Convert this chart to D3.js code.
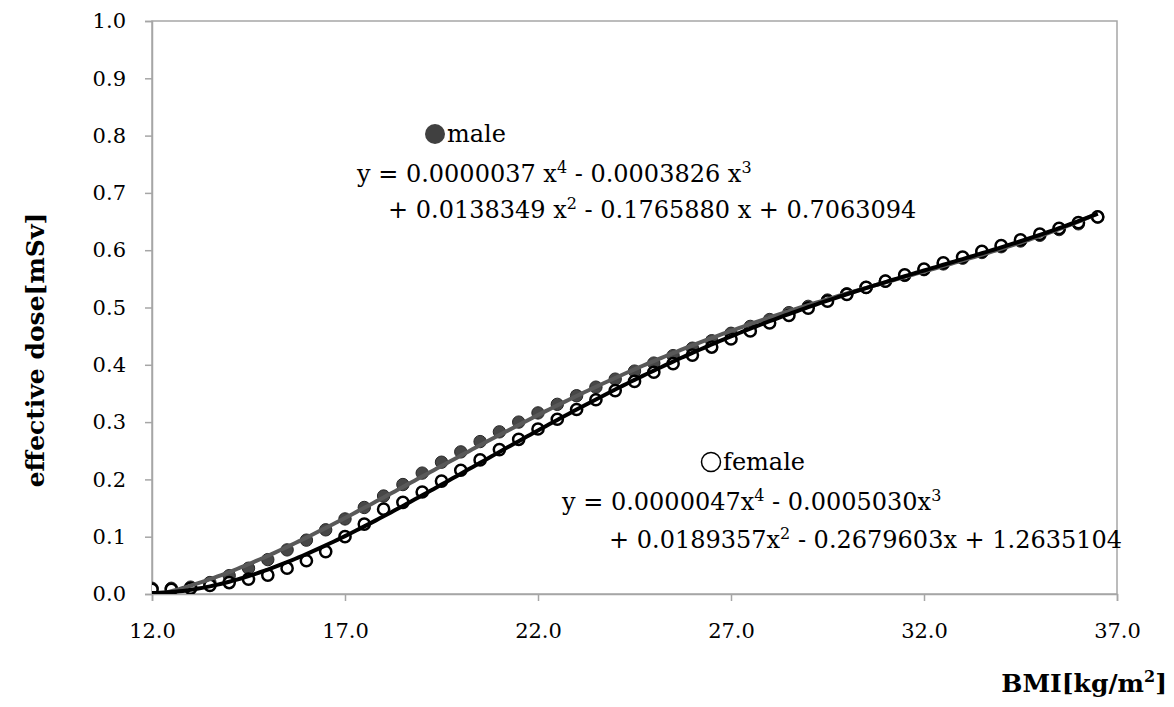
<!DOCTYPE html>
<html>
<head>
<meta charset="utf-8">
<script src="https://cdn.jsdelivr.net/npm/d3@7"></script>
<style>
  body { margin: 0; background: #fff; }
  svg { display: block; }
  .tick text { font-family: "DejaVu Serif", serif; font-size: 21px; fill: #000; }
</style>
</head>
<body>
<svg id="chart" width="1174" height="707"></svg>
<script>
// BMI values (same for both series)
const bmi = [12.0, 12.5, 13.0, 13.5, 14.0, 14.5, 15.0, 15.5, 16.0, 16.5,
  17.0, 17.5, 18.0, 18.5, 19.0, 19.5, 20.0, 20.5, 21.0, 21.5,
  22.0, 22.5, 23.0, 23.5, 24.0, 24.5, 25.0, 25.5, 26.0, 26.5,
  27.0, 27.5, 28.0, 28.5, 29.0, 29.5, 30.0, 30.5, 31.0, 31.5,
  32.0, 32.5, 33.0, 33.5, 34.0, 34.5, 35.0, 35.5, 36.0, 36.5];

// effective dose [mSv]
const maleDose = [0.010, 0.010, 0.012, 0.020, 0.032, 0.045, 0.060, 0.077, 0.094, 0.112,
  0.131, 0.151, 0.171, 0.191, 0.211, 0.230, 0.248, 0.266, 0.283, 0.300,
  0.316, 0.331, 0.346, 0.361, 0.375, 0.389, 0.403, 0.416, 0.429, 0.442,
  0.455, 0.467, 0.479, 0.491, 0.502, 0.513, 0.524, 0.535, 0.546, 0.556,
  0.566, 0.576, 0.586, 0.596, 0.606, 0.616, 0.626, 0.636, 0.646, 0.658];

const femaleDose = [0.008, 0.008, 0.010, 0.015, 0.020, 0.026, 0.033, 0.045, 0.058, 0.074,
  0.100, 0.122, 0.148, 0.160, 0.178, 0.197, 0.216, 0.234, 0.252, 0.270,
  0.288, 0.305, 0.322, 0.339, 0.355, 0.371, 0.387, 0.402, 0.417, 0.431,
  0.445, 0.459, 0.473, 0.486, 0.499, 0.511, 0.523, 0.535, 0.546, 0.557,
  0.567, 0.578, 0.588, 0.598, 0.608, 0.618, 0.628, 0.638, 0.648, 0.658];

const xTicks = [12, 17, 22, 27, 32, 37];
const yTicks = [0, 0.1, 0.2, 0.3, 0.4, 0.5, 0.6, 0.7, 0.8, 0.9, 1.0];

const maleLabel = ["y = 0.0000037 x", "4", " - 0.0003826 x", "3"];
const maleLabel2 = ["+ 0.0138349 x", "2", " - 0.1765880 x + 0.7063094"];
const femaleLabel = ["y = 0.0000047x", "4", " - 0.0005030x", "3"];
const femaleLabel2 = ["+ 0.0189357x", "2", " - 0.2679603x + 1.2635104"];

const mLeft = 152, mRight = 1117, mTop = 21, mBottom = 594;
const svg = d3.select("#chart");

const x = d3.scaleLinear().domain([12, 37]).range([mLeft, mRight]);
const y = d3.scaleLinear().domain([0, 1]).range([mBottom, mTop]);

svg.append("defs").append("clipPath").attr("id", "clip")
  .append("rect").attr("x", mLeft).attr("y", mTop)
  .attr("width", mRight - mLeft).attr("height", mBottom - mTop);

// plot border
svg.append("rect")
  .attr("x", mLeft).attr("y", mTop)
  .attr("width", mRight - mLeft).attr("height", mBottom - mTop)
  .attr("fill", "none").attr("stroke", "#a6a6a6").attr("stroke-width", 1.5);

const xAxis = svg.append("g")
  .attr("transform", `translate(0,${mBottom})`)
  .call(d3.axisBottom(x).tickValues(xTicks).tickFormat(d3.format(".1f")).tickSize(7).tickPadding(22));
const yAxis = svg.append("g")
  .attr("transform", `translate(${mLeft},0)`)
  .call(d3.axisLeft(y).tickValues(yTicks).tickFormat(d3.format(".1f")).tickSize(7).tickPadding(19));
[xAxis, yAxis].forEach((g) => {
  g.select(".domain").attr("stroke", "#a6a6a6").attr("stroke-width", 1.5);
  g.selectAll("line").attr("stroke", "#a6a6a6").attr("stroke-width", 1.5);
});

// least squares polynomial (order 4) trendline
const polyFit = (xs, ys, order) => {
  const c = d3.mean(xs), s = (d3.max(xs) - d3.min(xs)) / 2;
  const n = order + 1;
  const A = Array.from({ length: n }, () => new Array(n + 1).fill(0));
  xs.forEach((xv, k) => {
    const t = (xv - c) / s;
    for (let i = 0; i < n; i++) {
      for (let j = 0; j < n; j++) A[i][j] += Math.pow(t, i + j);
      A[i][n] += ys[k] * Math.pow(t, i);
    }
  });
  for (let i = 0; i < n; i++) {
    let p = i;
    for (let r = i + 1; r < n; r++) if (Math.abs(A[r][i]) > Math.abs(A[p][i])) p = r;
    [A[i], A[p]] = [A[p], A[i]];
    for (let r = 0; r < n; r++) {
      if (r === i) continue;
      const f = A[r][i] / A[i][i];
      for (let k = i; k <= n; k++) A[r][k] -= f * A[i][k];
    }
  }
  const coef = A.map((row, i) => row[n] / row[i]);
  return (xv) => {
    const t = (xv - c) / s;
    return coef.reduce((acc, a, i) => acc + a * Math.pow(t, i), 0);
  };
};

const male = bmi.map((b, i) => ({ bmi: b, dose: maleDose[i] }));
const female = bmi.map((b, i) => ({ bmi: b, dose: femaleDose[i] }));

const plotG = svg.append("g").attr("clip-path", "url(#clip)");

plotG.append("g").selectAll("circle").data(male).enter().append("circle")
  .attr("cx", (d) => x(d.bmi)).attr("cy", (d) => y(d.dose)).attr("r", 6.2)
  .attr("fill", "#474747").attr("stroke", "#262626").attr("stroke-width", 1);

plotG.append("g").selectAll("circle").data(female).enter().append("circle")
  .attr("cx", (d) => x(d.bmi)).attr("cy", (d) => y(d.dose)).attr("r", 5.6)
  .attr("fill", "#fff").attr("stroke", "#000").attr("stroke-width", 2.5);

const makeTrend = (data, color) => {
  const f = polyFit(data.map((d) => d.bmi), data.map((d) => d.dose), 4);
  const ext = d3.extent(data, (d) => d.bmi);
  const line = d3.line().x((d) => x(d)).y((d) => y(f(d)));
  plotG.append("path")
    .datum(d3.range(ext[0], ext[1] + 0.001, 0.1))
    .attr("fill", "none").attr("stroke", color).attr("stroke-width", 4)
    .attr("d", line);
};
makeTrend(male, "#595959");
makeTrend(female, "#000");

// annotations
const textFont = "DejaVu Serif";
const writeEq = (parts, px, py) => {
  const t = svg.append("text").attr("x", px).attr("y", py)
    .attr("font-family", textFont).attr("font-size", 24).attr("fill", "#000");
  parts.forEach((p, i) => {
    const sup = i % 2 === 1;
    t.append("tspan").text(p)
      .attr("font-size", sup ? 16 : 24)
      .attr("dy", sup ? -9 : (i > 0 ? 9 : 0));
  });
};

svg.append("circle").attr("cx", 435).attr("cy", 134).attr("r", 10).attr("fill", "#404040");
svg.append("text").attr("x", 447).attr("y", 142).text("male")
  .attr("font-family", textFont).attr("font-size", 24);
writeEq(maleLabel, 357, 182);
writeEq(maleLabel2, 388, 218);

svg.append("circle").attr("cx", 711).attr("cy", 462).attr("r", 9.5)
  .attr("fill", "none").attr("stroke", "#000").attr("stroke-width", 1.5);
svg.append("text").attr("x", 723).attr("y", 470).text("female")
  .attr("font-family", textFont).attr("font-size", 24);
writeEq(femaleLabel, 562, 510);
writeEq(femaleLabel2, 609, 548);

svg.append("text")
  .attr("transform", `translate(44,350) rotate(-90)`)
  .attr("text-anchor", "middle")
  .attr("font-family", textFont).attr("font-size", 25).attr("font-weight", "bold")
  .text("effective dose[mSv]");

const xt = svg.append("text").attr("x", 1167).attr("y", 692)
  .attr("text-anchor", "end")
  .attr("font-family", textFont).attr("font-size", 25).attr("font-weight", "bold");
xt.append("tspan").text("BMI[kg/m");
xt.append("tspan").text("2").attr("font-size", 16).attr("dy", -10);
xt.append("tspan").text("]").attr("dy", 10);
</script>
</body>
</html>
